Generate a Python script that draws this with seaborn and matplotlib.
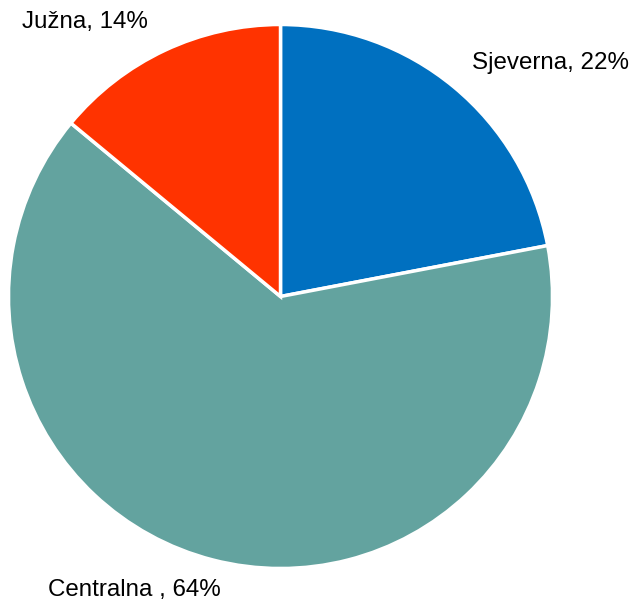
import matplotlib
matplotlib.use("Agg")
import matplotlib.pyplot as plt
import seaborn as sns

categories = ["Sjeverna", "Centralna ", "Južna"]
values = [22, 64, 14]
colors = ["#0070C0", "#63A39F", "#FF3300"]

sns.set_theme(style="white")
plt.rcParams['font.family'] = ['Liberation Sans', 'DejaVu Sans']

cx, cy, r = 280.5, 296.5, 272
fig = plt.figure(figsize=(6.36, 6.03), dpi=100)
ax = fig.add_axes([(cx - r)/636, (603 - cy - r)/603, 2*r/636, 2*r/603])
ax.pie(values, colors=colors, startangle=90, counterclock=False,
       wedgeprops=dict(edgecolor="white", linewidth=2.5), radius=1,
       frame=False)
ax.set_xlim(-1.0, 1.0)
ax.set_ylim(-1.0, 1.0)
ax.set_aspect("auto")
ax.axis("off")

labels = [f"{c}, {v}%" for c, v in zip(categories, values)]
pos = [(472, 63), (48, 590), (22, 22)]
for lab, (x, y) in zip(labels, pos):
    fig.text(x/636, 1 - y/603, lab, ha="left", va="center", fontsize=17.4, color="black")

fig.savefig("out.png", dpi=100)
